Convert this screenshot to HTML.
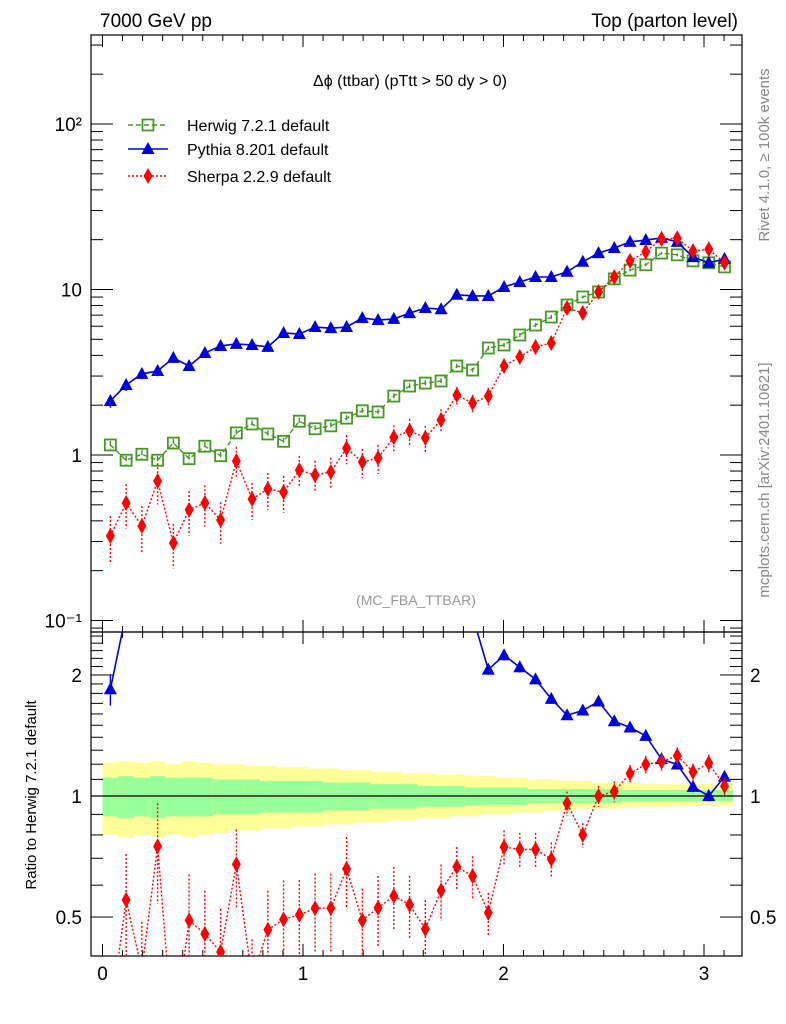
<!DOCTYPE html>
<html><head><meta charset="utf-8"><style>
html,body{margin:0;padding:0;background:#fff;width:786px;height:1024px;overflow:hidden;}
svg{display:block;font-family:"Liberation Sans",sans-serif;}
</style></head><body>
<svg id="c" width="786" height="1024" viewBox="0 0 786 1024" xmlns="http://www.w3.org/2000/svg">
<defs>
<clipPath id="topclip"><rect x="91" y="35" width="651" height="597"/></clipPath>
<clipPath id="botclip"><rect x="91" y="632" width="651" height="324"/></clipPath>
</defs>
<g id="bands" clip-path="url(#botclip)"></g>
<g id="axes"></g>
<g id="marksTop" clip-path="url(#topclip)"></g>
<g id="marksBot" clip-path="url(#botclip)"></g>
<text x="100" y="27" font-size="19">7000 GeV pp</text>
<text x="738" y="27" font-size="19" text-anchor="end">Top (parton level)</text>
<text x="410" y="86" font-size="16" text-anchor="middle">Δϕ (ttbar) (pTtt &gt; 50 dy &gt; 0)</text>
<text x="416" y="605" font-size="14" fill="#999" text-anchor="middle">(MC_FBA_TTBAR)</text>
<text transform="translate(769,155) rotate(-90)" font-size="15" fill="#888" text-anchor="middle">Rivet 4.1.0, ≥ 100k events</text>
<text transform="translate(769,480) rotate(-90)" font-size="15" fill="#888" text-anchor="middle">mcplots.cern.ch [arXiv:2401.10621]</text>
<text transform="translate(36,795) rotate(-90)" font-size="15" text-anchor="middle">Ratio to Herwig 7.2.1 default</text>
<g id="legend"></g>
</svg>
<script>
const herwig=[1.15,0.93,1.01,0.93,1.18,0.95,1.13,0.99,1.36,1.54,1.34,1.21,1.60,1.44,1.50,1.67,1.85,1.82,2.27,2.61,2.72,2.80,3.45,3.26,4.43,4.62,5.31,6.10,6.82,8.06,9.01,9.66,11.6,13.1,14.1,16.6,16.2,14.9,14.5,13.7];
const pythia=[2.12,2.65,3.09,3.22,3.86,3.45,4.13,4.56,4.69,4.62,4.50,5.46,5.38,5.93,5.84,5.93,6.73,6.54,6.64,7.2,7.73,7.6,9.3,9.14,9.14,10.35,11.1,11.9,11.9,12.8,14.7,16.6,17.8,19.4,19.9,20.5,19.4,15.7,14.5,15.3];
const sherpa=[0.324,0.513,0.372,0.697,0.294,0.466,0.513,0.405,0.92,0.542,0.623,0.597,0.81,0.757,0.789,1.10,0.907,0.959,1.28,1.40,1.27,1.63,2.30,2.06,2.27,3.45,3.91,4.49,4.75,7.73,7.21,9.66,11.9,14.9,16.9,20.2,20.4,17.1,17.5,14.5];
const herwigErr=[0.06,0.06,0.06,0.06,0.06,0.06,0.06,0.05,0.05,0.05,0.05,0.05,0.05,0.05,0.05,0.04,0.04,0.04,0.04,0.04,0.04,0.04,0.03,0.03,0.03,0.03,0.03,0.03,0.03,0.03,0.02,0.02,0.02,0.02,0.02,0.02,0.02,0.02,0.02,0.02];
const pythiaErr=[0.09,0.08,0.07,0.07,0.06,0.06,0.06,0.05,0.05,0.05,0.05,0.04,0.04,0.04,0.04,0.04,0.03,0.03,0.03,0.03,0.03,0.03,0.03,0.03,0.03,0.03,0.03,0.02,0.02,0.02,0.02,0.02,0.02,0.02,0.02,0.02,0.02,0.03,0.03,0.03];
const sherpaErr=[0.32,0.3,0.32,0.28,0.3,0.3,0.28,0.28,0.22,0.25,0.25,0.25,0.22,0.22,0.22,0.2,0.2,0.2,0.18,0.18,0.18,0.16,0.12,0.12,0.12,0.1,0.1,0.1,0.1,0.07,0.07,0.06,0.06,0.05,0.05,0.05,0.05,0.05,0.05,0.05];
const yellowHi=[1.21,1.22,1.21,1.22,1.20,1.22,1.21,1.20,1.20,1.19,1.19,1.18,1.18,1.17,1.17,1.16,1.16,1.15,1.15,1.14,1.14,1.13,1.13,1.12,1.12,1.11,1.11,1.10,1.10,1.09,1.09,1.08,1.08,1.08,1.07,1.07,1.07,1.07,1.07,1.07];
const yellowLo=[0.80,0.79,0.80,0.79,0.80,0.79,0.80,0.81,0.82,0.82,0.83,0.83,0.84,0.84,0.85,0.85,0.86,0.86,0.87,0.87,0.88,0.88,0.89,0.89,0.90,0.90,0.91,0.91,0.92,0.92,0.93,0.93,0.93,0.94,0.94,0.94,0.945,0.945,0.945,0.945];
const greenHi=[1.11,1.12,1.11,1.12,1.11,1.11,1.11,1.10,1.10,1.10,1.09,1.09,1.09,1.09,1.08,1.08,1.08,1.07,1.07,1.07,1.06,1.06,1.06,1.05,1.05,1.05,1.05,1.04,1.04,1.04,1.04,1.04,1.04,1.035,1.035,1.035,1.035,1.035,1.035,1.035];
const greenLo=[0.89,0.88,0.89,0.88,0.89,0.89,0.89,0.90,0.90,0.90,0.91,0.91,0.91,0.91,0.92,0.92,0.92,0.93,0.93,0.93,0.94,0.94,0.94,0.95,0.95,0.95,0.95,0.96,0.96,0.96,0.96,0.96,0.96,0.97,0.97,0.97,0.97,0.97,0.97,0.97];
const xTicks=[0,1,2,3];
const topTicks=[0.1,1,10,100];
const topTickLabels=["10⁻¹","1","10","10²"];
const ratioTicks=[0.5,1,2];
const ratioTickLabels=["0.5","1","2"];

const NS="http://www.w3.org/2000/svg";
const N=herwig.length, W=Math.PI/N;
const X=v=>102.5+v*200.5;
const Y=v=>455-165.5*Math.log10(v);
const R=v=>796-121*Math.log2(v);
function mk(p,tag,a){const e=document.createElementNS(NS,tag);for(const k in a)e.setAttribute(k,a[k]);p.appendChild(e);return e;}
const axes=document.getElementById('axes');
const bands=document.getElementById('bands');
for(let i=0;i<N;i++){
  const x0=X(i*W),x1=X((i+1)*W);
  const yb=mk(bands,'rect',{x:x0,y:R(yellowHi[i]),width:x1-x0+0.5,height:R(yellowLo[i])-R(yellowHi[i]),fill:'#ffff99'});
  
  
  const gb=mk(bands,'rect',{x:x0,y:R(greenHi[i]),width:x1-x0+0.5,height:R(greenLo[i])-R(greenHi[i]),fill:'#99ff99'});
  
  
}
mk(axes,'rect',{x:91,y:35,width:651,height:597,fill:'none',stroke:'#000','stroke-width':1.2});
mk(axes,'rect',{x:91,y:632,width:651,height:324,fill:'none',stroke:'#000','stroke-width':1.2});
mk(axes,'line',{x1:91,x2:742,y1:R(1),y2:R(1),stroke:'#000','stroke-width':1.2});
for(let k=0;k<=31;k++){const v=k/10;const x=X(v);const maj=k%10===0;const L=maj?12:6;
  mk(axes,'line',{x1:x,x2:x,y1:956,y2:956-L,stroke:'#000'});
  mk(axes,'line',{x1:x,x2:x,y1:632,y2:632-L,stroke:'#000'});
  mk(axes,'line',{x1:x,x2:x,y1:35,y2:35+L,stroke:'#000'});
  mk(axes,'line',{x1:x,x2:x,y1:632,y2:632+L,stroke:'#000'});
}
xTicks.forEach(v=>{const t=mk(axes,'text',{x:X(v),y:980,'font-size':19,'text-anchor':'middle'});t.textContent=String(v);
  
  });
for(let d=-2;d<=2;d++)for(let m=1;m<=9;m++){const v=m*Math.pow(10,d);const y=Y(v);if(y<35||y>632)continue;const L=m===1?22:12;
  mk(axes,'line',{x1:91,x2:91+L,y1:y,y2:y,stroke:'#000'});
  mk(axes,'line',{x1:742,x2:742-L,y1:y,y2:y,stroke:'#000'});}
topTicks.forEach((v,i)=>{const t=mk(axes,'text',{x:82,y:Y(v)+7,'font-size':19,'text-anchor':'end'});t.textContent=topTickLabels[i];
  
  });
for(let k=4;k<=25;k++){const v=k/10;const y=R(v);if(y<632||y>956)continue;const maj=(k===5||k===10||k===20);const L=maj?22:12;
  mk(axes,'line',{x1:91,x2:91+L,y1:y,y2:y,stroke:'#000'});
  mk(axes,'line',{x1:742,x2:742-L,y1:y,y2:y,stroke:'#000'});}
ratioTicks.forEach((v,i)=>{const t=mk(axes,'text',{x:82,y:R(v)+7,'font-size':19,'text-anchor':'end'});t.textContent=ratioTickLabels[i];
  
  
  const t2=mk(axes,'text',{x:750,y:R(v)+7,'font-size':19});t2.textContent=ratioTickLabels[i];
  
  });

function marker(g,type,x,y,col){
  let e;
  if(type==='sq')e=mk(g,'rect',{x:x-5.5,y:y-5.5,width:11,height:11,fill:'none',stroke:col,'stroke-width':1.8});
  else if(type==='tri')e=mk(g,'polygon',{points:`${x},${y-7} ${x-6.5},${y+5} ${x+6.5},${y+5}`,fill:col});
  else e=mk(g,'polygon',{points:`${x},${y-8} ${x+4.5},${y} ${x},${y+8} ${x-4.5},${y}`,fill:col});
  return e;
}
function series(g,vals,errs,type,col,dash,name,yf){
  const pts=vals.map((v,i)=>[X((i+0.5)*W),yf(v)]);
  const pl=mk(g,'polyline',{points:pts.map(p=>p.join(',')).join(' '),fill:'none',stroke:col,'stroke-width':type==='tri'?1.6:1.4,'stroke-dasharray':dash});
  
  
  vals.forEach((v,i)=>{const x=pts[i][0];
    const eb=mk(g,'line',{x1:x,x2:x,y1:yf(v*(1+errs[i])),y2:yf(v*(1-errs[i])),stroke:col,'stroke-width':1.4,'stroke-dasharray':dash});
    
    
    const m=marker(g,type,x,pts[i][1],col);
    
    });
}
const mt=document.getElementById('marksTop'),mb=document.getElementById('marksBot');
series(mt,herwig,herwigErr,'sq','#449922','5,3','herwig',Y);
series(mt,pythia,pythiaErr,'tri','#0000dd','none','pythia',Y);
series(mt,sherpa,sherpaErr,'dia','#ff0000','2,2','sherpa',Y);
series(mb,pythia.map((v,i)=>v/herwig[i]),pythiaErr,'tri','#0000dd','none','pythia-ratio',R);
series(mb,sherpa.map((v,i)=>v/herwig[i]),sherpaErr,'dia','#ff0000','2,2','sherpa-ratio',R);
const lg=document.getElementById('legend');
[['Herwig 7.2.1 default','sq','#449922','5,3',125],['Pythia 8.201 default','tri','#0000dd','none',149],['Sherpa 2.2.9 default','dia','#ff0000','2,2',176]].forEach(e=>{
  const g=mk(lg,'g',{});
  
  
  mk(g,'line',{x1:128,x2:168,y1:e[4],y2:e[4],stroke:e[2],'stroke-width':1.5,'stroke-dasharray':e[3]});
  marker(g,e[1],148,e[4],e[2]);
  const t=mk(g,'text',{x:187,y:e[4]+6,'font-size':16});t.textContent=e[0];
});
</script>
</body></html>
